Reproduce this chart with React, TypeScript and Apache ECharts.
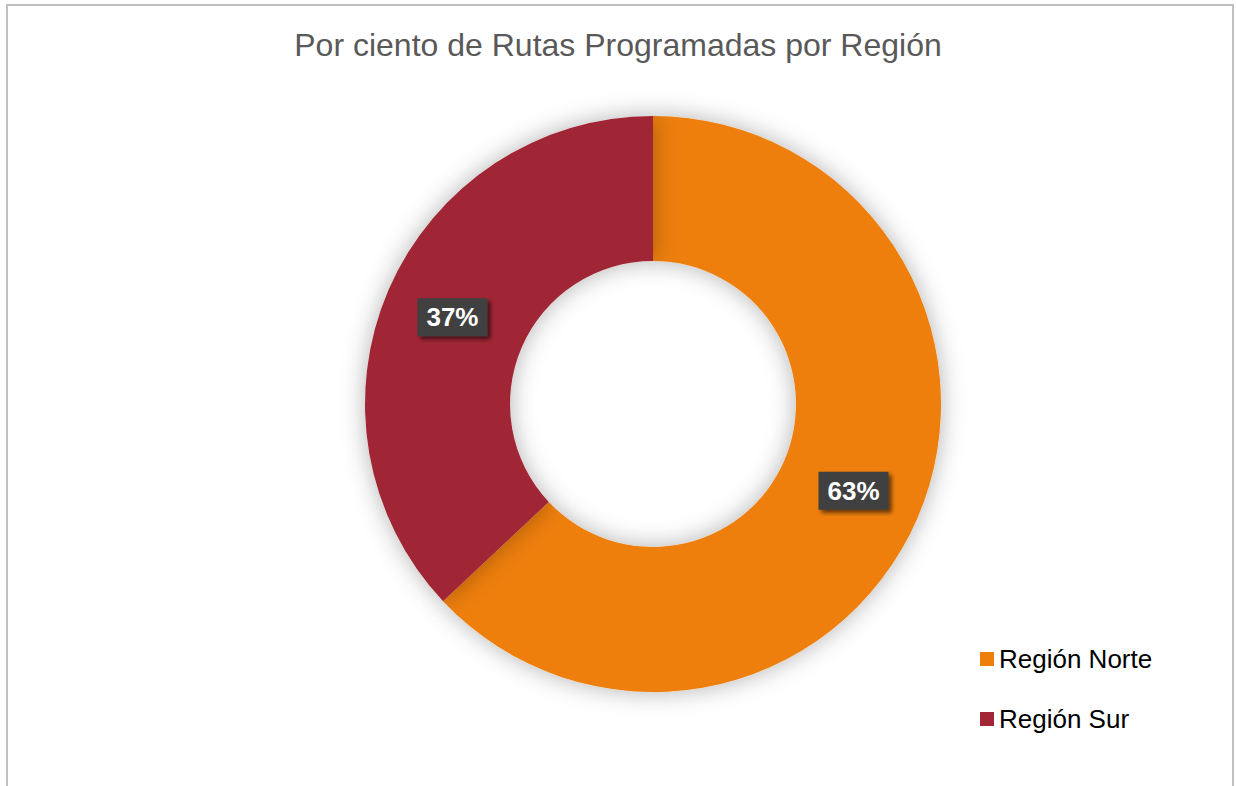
import React, { useEffect, useRef } from "react";
import * as echarts from "echarts";

const titleText = "Por ciento de Rutas Programadas por Región";
const categories = ["Región Norte", "Región Sur"];
const values = [63, 37];
const colors = ["#EE7F0B", "#A12735"];

export default function App() {
  const ref = useRef<HTMLDivElement>(null);
  useEffect(() => {
    if (!ref.current) return;
    const chart = echarts.init(ref.current, undefined, { renderer: "svg" });
    chart.setOption({
      animation: false,
      backgroundColor: "#ffffff",
      title: {
        text: titleText,
        left: "center",
        top: 24,
        textStyle: {
          fontFamily: "Liberation Sans, Arial, sans-serif",
          fontSize: 32,
          fontWeight: "normal",
          color: "#595959",
        },
      },
      graphic: [
        {
          type: "rect",
          shape: { x: 7, y: 5, width: 1226, height: 900 },
          style: { fill: "none", stroke: "#C0C0C0", lineWidth: 2 },
          silent: true,
          z: 100,
        },
      ],
      legend: {
        orient: "vertical",
        left: 975,
        top: 641,
        itemWidth: 14,
        itemHeight: 14,
        itemGap: 34,
        icon: "rect",
        data: categories,
        textStyle: {
          fontFamily: "Liberation Sans, Arial, sans-serif",
          fontSize: 26,
          color: "#000000",
        },
      },
      series: [
        {
          type: "pie",
          center: [653, 404],
          radius: [143, 288],
          startAngle: 90,
          clockwise: true,
          avoidLabelOverlap: false,
          itemStyle: {
            shadowBlur: 25,
            shadowColor: "rgba(0,0,0,0.3)",
          },
          label: {
            show: true,
            position: "inside",
            formatter: (p: any) => p.value + "%",
            color: "#ffffff",
            fontFamily: "Liberation Sans, Arial, sans-serif",
            fontWeight: "bold",
            fontSize: 26,
            lineHeight: 26,
            backgroundColor: "#404040",
            padding: [6, 9, 6, 9],
            shadowBlur: 4,
            shadowColor: "rgba(0,0,0,0.6)",
            shadowOffsetX: 3,
            shadowOffsetY: 3,
          },
          labelLine: { show: false },
          data: categories.map((c, i) => ({
            name: c,
            value: values[i],
            itemStyle: { color: colors[i] },
          })),
        },
      ],
    });
    return () => chart.dispose();
  }, []);
  return (
    <div
      ref={ref}
      style={{ position: "fixed", left: 0, top: 0, width: 1236, height: 786 }}
    />
  );
}
